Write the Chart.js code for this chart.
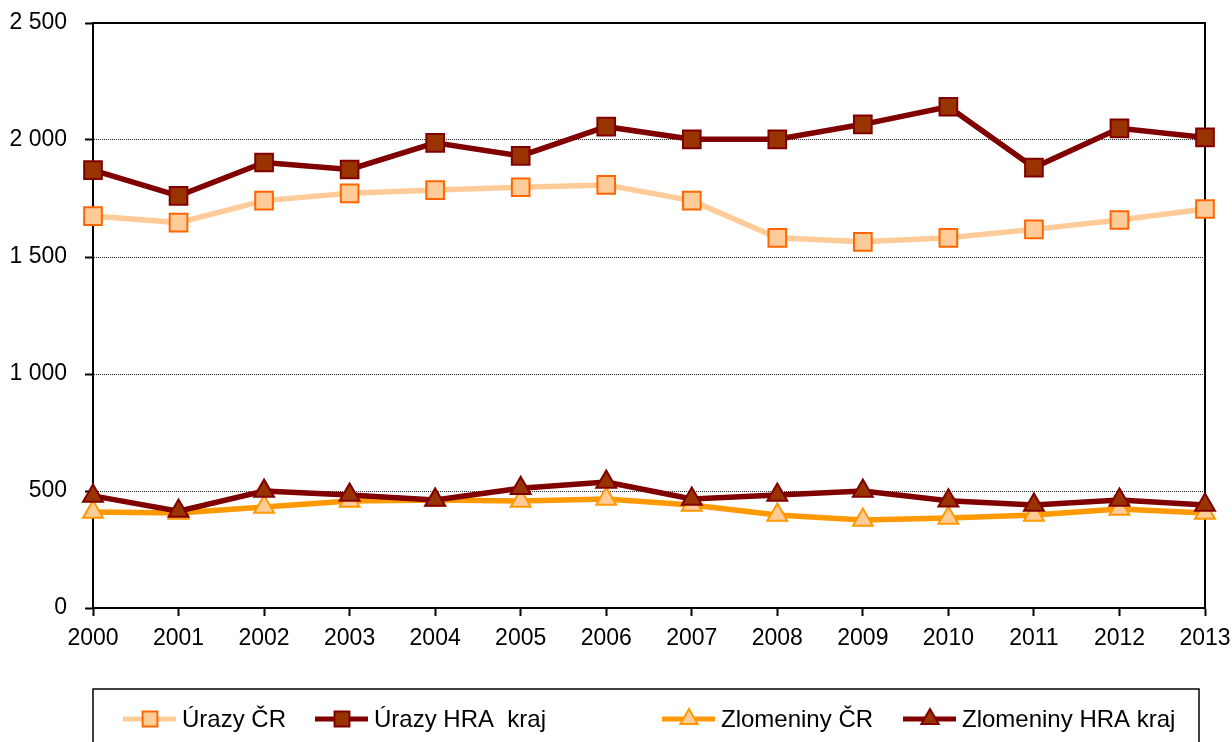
<!DOCTYPE html>
<html>
<head>
<meta charset="utf-8">
<script src="https://cdn.jsdelivr.net/npm/chart.js@4/dist/chart.umd.min.js"></script>
<style>
  body { margin: 0; background: #fff; }
  #wrap { width: 1232px; height: 742px; }
</style>
</head>
<body>
<div id="wrap"><canvas id="chart" width="1232" height="742"></canvas></div>
<script>
// Data
const years = ['2000', '2001', '2002', '2003', '2004', '2005', '2006', '2007', '2008', '2009', '2010', '2011', '2012', '2013'];
const urazyCR = [1675, 1647, 1741, 1772, 1786, 1798, 1808, 1741, 1582, 1565, 1582, 1618, 1658, 1705];
const urazyHRA = [1871, 1761, 1904, 1874, 1988, 1932, 2057, 2003, 2003, 2067, 2142, 1882, 2050, 2011];
const zlomCR = [410, 406, 432, 457, 462, 457, 466, 440, 397, 376, 385, 397, 423, 406];
const zlomHRA = [479, 414, 500, 483, 462, 512, 538, 466, 483, 500, 458, 440, 462, 440];
const yTicks = { min: 0, max: 2500, step: 500 };

const FONT = 'Liberation Sans, Arial, sans-serif';

// Format numbers with a space as thousands separator
function fmt(v) {
  return String(v).replace(/\B(?=(\d{3})+(?!\d))/g, ' ');
}

// Draws top and right edges of the plot frame
const framePlugin = {
  id: 'frame',
  beforeDatasetsDraw(chart) {
    const { ctx, chartArea: a } = chart;
    ctx.save();
    ctx.strokeStyle = '#000';
    ctx.lineWidth = 2;
    ctx.beginPath();
    ctx.moveTo(a.left, a.top);
    ctx.lineTo(a.right, a.top);
    ctx.lineTo(a.right, a.bottom);
    ctx.stroke();
    ctx.restore();
  }
};

// Legend in a box below the chart
const legendPlugin = {
  id: 'boxLegend',
  afterDraw(chart) {
    const ctx = chart.ctx;
    const xs = [123, 315, 662, 903];
    const y = 719;
    ctx.save();
    ctx.strokeStyle = '#000';
    ctx.lineWidth = 1.5;
    ctx.strokeRect(93, 689, 1106, 80);
    chart.data.datasets.forEach((ds, i) => {
      const x = xs[i];
      ctx.strokeStyle = ds.borderColor;
      ctx.lineWidth = 5;
      ctx.beginPath();
      ctx.moveTo(x, y);
      ctx.lineTo(x + 53, y);
      ctx.stroke();
      ctx.fillStyle = ds.pointBackgroundColor;
      ctx.strokeStyle = ds.pointBorderColor;
      ctx.lineWidth = 2;
      Chart.helpers.drawPoint(ctx, {
        pointStyle: ds.pointStyle,
        radius: ds.pointStyle === 'rect' ? 10.5 : 10,
        rotation: 0,
        borderWidth: 2
      }, x + 27, y);
      ctx.fillStyle = '#000';
      ctx.font = '24px ' + FONT;
      ctx.textBaseline = 'middle';
      ctx.fillText(ds.label, x + 59, y + 1);
    });
    ctx.restore();
  }
};

const ctx = document.getElementById('chart').getContext('2d');
new Chart(ctx, {
  type: 'line',
  data: {
    labels: years,
    datasets: [
      {
        label: 'Úrazy ČR',
        data: urazyCR,
        borderColor: '#FFCC99',
        borderWidth: 5.5,
        pointStyle: 'rect',
        pointRadius: 12.5,
        pointBackgroundColor: '#FFCC99',
        pointBorderColor: '#FF6600',
        pointBorderWidth: 2,
        order: 1
      },
      {
        label: 'Úrazy HRA  kraj',
        data: urazyHRA,
        borderColor: '#800000',
        borderWidth: 5.5,
        pointStyle: 'rect',
        pointRadius: 12.5,
        pointBackgroundColor: '#993300',
        pointBorderColor: '#800000',
        pointBorderWidth: 2,
        order: 0
      },
      {
        label: 'Zlomeniny ČR',
        data: zlomCR,
        borderColor: '#FF9900',
        borderWidth: 5.5,
        pointStyle: 'triangle',
        pointRadius: 11.5,
        pointBackgroundColor: '#FFCC99',
        pointBorderColor: '#FF9900',
        pointBorderWidth: 2,
        order: 1
      },
      {
        label: 'Zlomeniny HRA kraj',
        data: zlomHRA,
        borderColor: '#800000',
        borderWidth: 5.5,
        pointStyle: 'triangle',
        pointRadius: 11.5,
        pointBackgroundColor: '#993300',
        pointBorderColor: '#800000',
        pointBorderWidth: 2,
        order: 0
      }
    ]
  },
  options: {
    responsive: false,
    animation: false,
    layout: { padding: { left: 0, top: 23, right: 27, bottom: 0 } },
    plugins: {
      legend: { display: false },
      tooltip: { enabled: false }
    },
    scales: {
      x: {
        offset: false,
        afterFit(scale) {
          scale.height = 134;
          scale.paddingLeft = 0;
          scale.paddingRight = 0;
        },
        grid: {
          drawOnChartArea: false,
          tickLength: 8,
          tickColor: '#000',
          tickWidth: 2
        },
        border: { color: '#000', width: 2 },
        ticks: {
          color: '#000',
          padding: 9,
          maxRotation: 0,
          autoSkip: false,
          font: { family: FONT, size: 23 }
        }
      },
      y: {
        min: yTicks.min,
        max: yTicks.max,
        afterFit(scale) {
          scale.width = 93;
          scale.paddingTop = 0;
          scale.paddingBottom = 0;
        },
        grid: {
          color: '#222',
          lineWidth: 1,
          tickLength: 8,
          tickColor: '#000',
          tickWidth: 2,
          tickBorderDash: []
        },
        border: { color: '#000', width: 2, dash: [1, 1] },
        ticks: {
          stepSize: yTicks.step,
          color: '#000',
          padding: 18,
          font: { family: FONT, size: 23 },
          callback: (v) => fmt(v)
        }
      }
    }
  },
  plugins: [framePlugin, legendPlugin]
});
</script>
</body>
</html>
